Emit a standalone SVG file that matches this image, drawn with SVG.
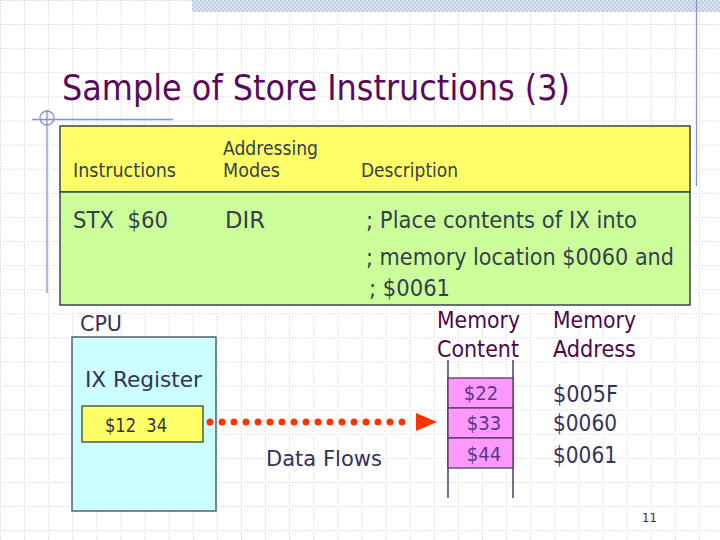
<svg xmlns="http://www.w3.org/2000/svg" width="720" height="540" viewBox="0 0 720 540">
<style>
.t{font-family:'DejaVu Sans Condensed','DejaVu Sans','Liberation Sans',sans-serif;font-stretch:condensed}
.title{font-size:36px;fill:#5a0a5a}
.hd{font-size:19px;fill:#334050}
.bd{font-size:23px;fill:#334050}
.lb{font-size:22px;fill:#333355}
.mem{font-size:23px;fill:#4a0a4a}
.addr{font-size:23px;fill:#333355}
.cell{font-size:20px;fill:#553a8a;text-anchor:middle}
.deco{stroke:#8595c8;stroke-width:1.3;fill:none}
.box{stroke:#3a4650;stroke-width:1.5}
.cellbox{fill:#ff99ff;stroke:#553a66;stroke-width:1.3}
</style>
<defs>
<pattern id="grid" patternUnits="userSpaceOnUse" x="0" y="0" width="24.1" height="24.1">
<path d="M0.5 0V24.1M0 0.5H24.1" stroke="#c4c4c4" stroke-width="1" stroke-dasharray="1 2" fill="none"/>
</pattern>
<pattern id="hatch" patternUnits="userSpaceOnUse" width="4" height="4">
<rect width="4" height="4" fill="#dfe5f1"/>
<rect width="2" height="2" fill="#bfcae2"/>
<rect x="2" y="2" width="2" height="2" fill="#bfcae2"/>
</pattern>
</defs>
<rect width="720" height="540" fill="#ffffff"/>
<rect width="720" height="540" fill="url(#grid)"/>
<g id="decoration">
<rect x="192" y="0" width="528" height="12" fill="url(#hatch)"/>
<line class="deco" x1="696.5" y1="0" x2="696.5" y2="186"/>
<line class="deco" x1="32" y1="119.5" x2="173" y2="119.5"/>
<circle class="deco" cx="47" cy="118" r="7"/>
<line class="deco" x1="47" y1="110" x2="47" y2="293"/>
</g>
<g id="title">
<text class="t title" x="62" y="100" textLength="508" lengthAdjust="spacingAndGlyphs">Sample of Store Instructions (3)</text>
</g>
<g id="table">
<rect class="box" x="60" y="126" width="630" height="66" fill="#ffff66"/>
<rect class="box" x="60" y="192" width="630" height="113" fill="#ccff99"/>
<text class="t hd" x="73" y="177" textLength="103" lengthAdjust="spacingAndGlyphs">Instructions</text>
<text class="t hd" x="223" y="155" textLength="95" lengthAdjust="spacingAndGlyphs">Addressing</text>
<text class="t hd" x="223" y="177" textLength="57" lengthAdjust="spacingAndGlyphs">Modes</text>
<text class="t hd" x="361" y="177" textLength="97" lengthAdjust="spacingAndGlyphs">Description</text>
<text class="t bd" x="73" y="228" xml:space="preserve" textLength="95" lengthAdjust="spacingAndGlyphs">STX  $60</text>
<text class="t bd" x="225" y="228" textLength="40" lengthAdjust="spacingAndGlyphs">DIR</text>
<text class="t bd" x="366" y="228" textLength="271" lengthAdjust="spacingAndGlyphs">; Place contents of IX into</text>
<text class="t bd" x="366" y="265" textLength="308" lengthAdjust="spacingAndGlyphs">; memory location $0060 and</text>
<text class="t bd" x="369" y="296" textLength="81" lengthAdjust="spacingAndGlyphs">; $0061</text>
</g>
<g id="cpu">
<text class="t lb" x="80" y="331" textLength="42" lengthAdjust="spacingAndGlyphs">CPU</text>
<rect x="72" y="337" width="144" height="174" fill="#ccffff" stroke="#3a4660" stroke-width="1.3"/>
<text class="t lb" x="85" y="387" textLength="117" lengthAdjust="spacingAndGlyphs">IX Register</text>
</g>
<g id="ix-register">
<rect x="82" y="406" width="121" height="36" fill="#ffff66" stroke="#3a4040" stroke-width="1.3"/>
<text class="t" x="105" y="432" xml:space="preserve" style="font-size:20px;fill:#333333" textLength="62" lengthAdjust="spacingAndGlyphs">$12  34</text>
</g>
<g id="memory">
<text class="t mem" x="437" y="328" textLength="83" lengthAdjust="spacingAndGlyphs">Memory</text>
<text class="t mem" x="437" y="357" textLength="82" lengthAdjust="spacingAndGlyphs">Content</text>
<line x1="448" y1="360" x2="448" y2="498" stroke="#4a4060" stroke-width="1.5"/>
<line x1="513" y1="360" x2="513" y2="498" stroke="#4a4060" stroke-width="1.5"/>
<g id="cell-005F"><rect class="cellbox" x="448" y="378" width="65" height="30"/><text class="t cell" x="481" y="400">$22</text></g>
<g id="cell-0060"><rect class="cellbox" x="448" y="408" width="65" height="30"/><text class="t cell" x="484" y="430">$33</text></g>
<g id="cell-0061"><rect class="cellbox" x="448" y="438" width="65" height="30"/><text class="t cell" x="484" y="461">$44</text></g>
</g>
<g id="addresses">
<text class="t mem" x="553" y="328" textLength="83" lengthAdjust="spacingAndGlyphs">Memory</text>
<text class="t mem" x="553" y="357" textLength="83" lengthAdjust="spacingAndGlyphs">Address</text>
<text class="t addr" x="553" y="402" textLength="65" lengthAdjust="spacingAndGlyphs">$005F</text>
<text class="t addr" x="553" y="431" textLength="64" lengthAdjust="spacingAndGlyphs">$0060</text>
<text class="t addr" x="553" y="463" textLength="64" lengthAdjust="spacingAndGlyphs">$0061</text>
</g>
<g id="connectors">
<line x1="210" y1="422" x2="414" y2="422" stroke="#ff3300" stroke-width="7" stroke-linecap="round" stroke-dasharray="0 12"/>
<polygon points="416,413 437,422 416,431" fill="#ff3300"/>
<text class="t lb" x="266" y="466" textLength="116" lengthAdjust="spacingAndGlyphs">Data Flows</text>
</g>
<text class="t" x="642" y="522" style="font-size:13px;fill:#333333">11</text>
</svg>
